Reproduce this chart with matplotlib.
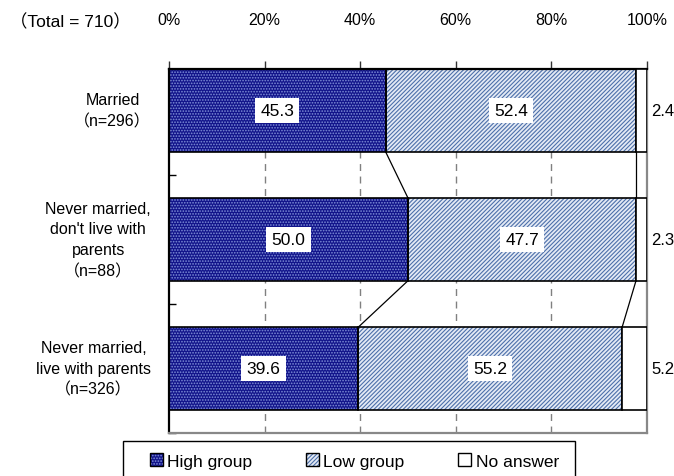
import matplotlib
matplotlib.use("Agg")
import matplotlib.pyplot as plt
from matplotlib.patches import Patch, Rectangle
from matplotlib.legend_handler import HandlerTuple

categories = ["Married\n（n=296）",
              "Never married,\ndon't live with\nparents\n（n=88）",
              "Never married,\nlive with parents\n（n=326）"]
high = [45.3, 50.0, 39.6]
low = [52.4, 47.7, 55.2]
no_answer = [2.4, 2.3, 5.2]
series_names = ["High group", "Low group", "No answer"]
xticks = [0, 20, 40, 60, 80, 100]
xtick_labels = ["0%", "20%", "40%", "60%", "80%", "100%"]
total_label = "（Total = 710）"

plt.rcParams['font.family'] = ['Liberation Sans', 'Noto Sans CJK JP', 'DejaVu Sans']
plt.rcParams['hatch.linewidth'] = 0.8

fs_lab = 11.5
fs_val = 12.5

HIGH_FACE = "#12148a"
HIGH_HATCH = "#8090d8"
LOW_FACE = "#e4eaf5"
LOW_HATCH = "#4d70aa"

fig = plt.figure(figsize=(6.74, 4.77), dpi=100)
ax = fig.add_axes([169/674, 1-434/477, (647-169)/674, (434-70)/477])

bh = 0.64
ys = list(range(len(categories)))
left_low = [h for h in high]
left_na = [h + l for h, l in zip(high, low)]

ax.barh(ys, high, height=bh, color=HIGH_FACE, edgecolor=HIGH_HATCH, hatch='......', linewidth=0, zorder=2)
ax.barh(ys, high, height=bh, facecolor='none', edgecolor='black', linewidth=1.2, zorder=3)
ax.barh(ys, low, left=left_low, height=bh, color=LOW_FACE, edgecolor=LOW_HATCH, hatch='////////', linewidth=0, zorder=2)
ax.barh(ys, low, left=left_low, height=bh, facecolor='none', edgecolor='black', linewidth=1.2, zorder=3)
ax.barh(ys, no_answer, left=left_na, height=bh, color='white', edgecolor='black', linewidth=1.2, zorder=3)

for y, h, l, n, ll in zip(ys, high, low, no_answer, left_low):
    ax.text(h/2, y, f"{h:.1f}", ha='center', va='center', fontsize=fs_val, zorder=5,
            bbox=dict(boxstyle='square,pad=0.3', fc='white', ec='none'))
    ax.text(ll + l/2, y, f"{l:.1f}", ha='center', va='center', fontsize=fs_val, zorder=5,
            bbox=dict(boxstyle='square,pad=0.3', fc='white', ec='none'))
    ax.annotate(f"{n:.1f}", xy=(100, y), xytext=(3, 0), textcoords='offset points',
                ha='left', va='center', fontsize=fs_val - 0.5, annotation_clip=False)

for i in range(len(ys) - 1):
    for a, b in ((high[i], high[i+1]), (left_na[i], left_na[i+1])):
        ax.plot([a, b], [ys[i] + bh/2, ys[i+1] - bh/2], color='black', lw=0.9, zorder=1)

ax.set_xlim(0, 100)
ax.set_ylim(2.50, -0.32)

for x in xticks[1:-1]:
    ax.axvline(x, color='#808080', lw=1.0, ls=(0, (5, 4)), zorder=0)

ax.xaxis.set_ticks_position('top')
ax.set_xticks(xticks)
ax.set_xticklabels(xtick_labels, fontsize=fs_lab)
ax.tick_params(axis='x', direction='out', length=6, pad=24, width=1, color='#333333')

ax.set_yticks([0.5, 1.5, 2.5])
ax.set_yticklabels([])
ax.tick_params(axis='y', direction='in', length=5, width=1)

for y, lab in zip(ys, categories):
    ax.annotate(lab, xy=(0, y), xytext=(-13, 0), textcoords='offset points',
                ha='right', va='center', multialignment='center', fontsize=fs_lab,
                linespacing=1.47, annotation_clip=False)

for s in ('left', 'top'):
    ax.spines[s].set_color('black')
    ax.spines[s].set_linewidth(1.6)
for s in ('right', 'bottom'):
    ax.spines[s].set_color('#888888')
    ax.spines[s].set_linewidth(1.6)

fig.text(10/674, 1-22/477, total_label, ha='left', va='center', fontsize=12.5)

h1 = (Patch(facecolor=HIGH_FACE, edgecolor=HIGH_HATCH, hatch='......', linewidth=0),
      Patch(facecolor='none', edgecolor='black', linewidth=1.0))
h2 = (Patch(facecolor=LOW_FACE, edgecolor=LOW_HATCH, hatch='////////', linewidth=0),
      Patch(facecolor='none', edgecolor='black', linewidth=1.0))
h3 = Patch(facecolor='white', edgecolor='black', linewidth=1.0)
leg = fig.legend([h1, h2, h3], series_names, ncol=3, loc='center left',
                 bbox_to_anchor=(141/674, 1-462/477), frameon=False,
                 fontsize=12.5, handlelength=0.75, handleheight=0.75, handletextpad=0.25,
                 columnspacing=3.1, borderpad=0.0,
                 handler_map={tuple: HandlerTuple(ndivide=1)})
fig.patches.append(Rectangle((123/674, -0.02), (575-123)/674, 0.02 + (477-442)/477,
                             transform=fig.transFigure, facecolor='none',
                             edgecolor='black', linewidth=1.0))

fig.savefig("out.png", dpi=100)
